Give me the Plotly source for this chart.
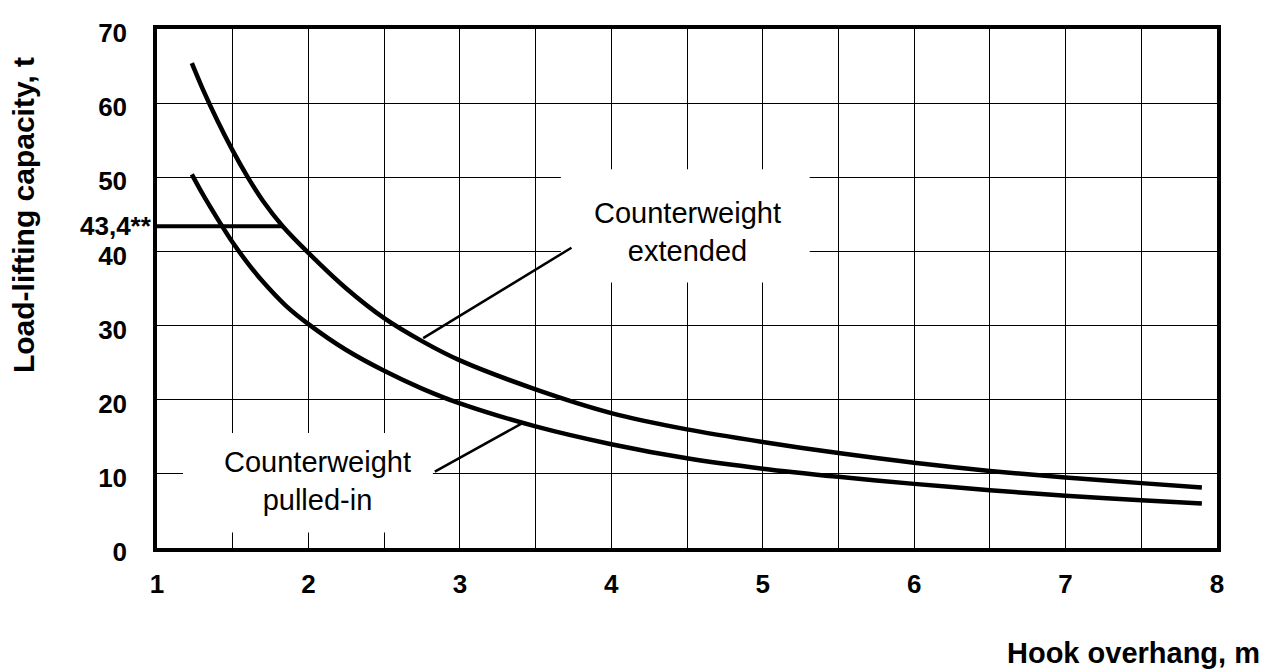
import plotly.graph_objects as go

# Data
ext_x = [1.23, 1.3, 1.4, 1.5, 1.6, 1.7, 1.83, 2.0, 2.25, 2.5, 2.75, 3.0, 3.5, 4.0, 4.5, 5.0, 5.5, 6.0, 6.5, 7.0, 7.5, 7.9]
ext_y = [65.4, 62.0, 57.6, 53.6, 50.0, 46.8, 43.4, 39.8, 35.0, 31.0, 27.9, 25.3, 21.4, 18.2, 16.0, 14.3, 12.8, 11.5, 10.4, 9.5, 8.75, 8.15]

pul_x = [1.23, 1.3, 1.4, 1.5, 1.6, 1.7, 1.85, 2.0, 2.25, 2.5, 2.75, 3.0, 3.5, 4.0, 4.5, 5.0, 5.5, 6.0, 6.5, 7.0, 7.5, 7.9]
pul_y = [50.4, 47.8, 44.4, 41.2, 38.4, 35.9, 32.7, 30.2, 26.7, 23.9, 21.5, 19.5, 16.4, 14.0, 12.1, 10.7, 9.6, 8.65, 7.8, 7.05, 6.45, 6.0]

limit_x = [1.0, 1.83]
limit_y = [43.4, 43.4]
limit_label = "43,4**"

ext_label = "Counterweight<br>extended"
ext_label_pos = (4.505, 42.6)
ext_leader_x = [2.758, 3.737]
ext_leader_y = [28.3, 40.5]
ext_box = (3.667, 5.31, 35.8, 51.1)

pul_label = "Counterweight<br>pulled-in"
pul_label_pos = (2.06, 9.0)
pul_leader_x = [2.835, 3.41]
pul_leader_y = [10.3, 16.8]
pul_box = (1.172, 2.822, 2.1, 15.5)

x_ticks = [1, 2, 3, 4, 5, 6, 7, 8]
y_ticks = [0, 10, 20, 30, 40, 50, 60, 70]

x_title = "Hook overhang, m"
y_title = "Load-lifting capacity, t"

NARROW = "Liberation Sans Narrow, Arial Narrow, Liberation Sans, Arial, sans-serif"
SANS = "Liberation Sans, Arial, Helvetica, sans-serif"

fig = go.Figure()

line_style = dict(color="black", width=4.5, shape="spline", smoothing=0.8)
fig.add_trace(go.Scatter(x=ext_x, y=ext_y, mode="lines", line=line_style, hoverinfo="skip"))
fig.add_trace(go.Scatter(x=pul_x, y=pul_y, mode="lines", line=line_style, hoverinfo="skip"))
fig.add_trace(go.Scatter(x=limit_x, y=limit_y, mode="lines", line=dict(color="black", width=4), hoverinfo="skip"))
fig.add_trace(go.Scatter(x=ext_leader_x, y=ext_leader_y, mode="lines", line=dict(color="black", width=2.5), hoverinfo="skip"))
fig.add_trace(go.Scatter(x=pul_leader_x, y=pul_leader_y, mode="lines", line=dict(color="black", width=2.5), hoverinfo="skip"))

# white boxes behind labels (cover gridlines, below traces)
for (x0, x1, y0, y1) in (ext_box, pul_box):
    fig.add_shape(type="rect", x0=x0, x1=x1, y0=y0, y1=y1, xref="x", yref="y",
                  fillcolor="white", line=dict(width=0), layer="between")

fig.add_annotation(x=ext_label_pos[0], y=ext_label_pos[1], text=ext_label, showarrow=False,
                   font=dict(family=SANS, size=29, color="black"), xanchor="center", yanchor="middle")
fig.add_annotation(x=pul_label_pos[0], y=pul_label_pos[1], text=pul_label, showarrow=False,
                   font=dict(family=SANS, size=29, color="black"), xanchor="center", yanchor="middle")

fig.add_annotation(x=0, xref="paper", y=limit_y[0], yref="y", text=limit_label, showarrow=False,
                   xanchor="right", yanchor="middle", xshift=-3,
                   font=dict(family=NARROW, size=26, color="black", weight="bold"))

fig.add_annotation(x=1.0425, xref="paper", y=-0.202, yref="paper", text=x_title, showarrow=False,
                   xanchor="right", yanchor="middle",
                   font=dict(family=SANS, size=29, color="black", weight="bold"))
fig.add_annotation(x=-0.1264, xref="paper", y=0.6415, yref="paper", text=y_title, showarrow=False,
                   textangle=-90, xanchor="center", yanchor="middle",
                   font=dict(family=SANS, size=30, color="black", weight="bold"))

fig.update_layout(
    width=1272, height=662,
    margin=dict(l=149, r=63, t=10, b=122),
    paper_bgcolor="white", plot_bgcolor="white",
    showlegend=False,
    xaxis=dict(range=[1, 8], tickvals=x_ticks, ticktext=[str(v) for v in x_ticks],
               showgrid=True, gridcolor="black", gridwidth=1.3,
               minor=dict(dtick=0.5, tick0=1, showgrid=True, gridcolor="black", gridwidth=1.3),
               showline=True, linecolor="black", linewidth=3.5, mirror=True,
               zeroline=False, ticks="", ticklabelstandoff=10,
               tickfont=dict(family=NARROW, size=26, color="black", weight="bold")),
    yaxis=dict(range=[0, 70], tickvals=y_ticks, ticktext=[str(v) for v in y_ticks],
               showgrid=True, gridcolor="black", gridwidth=1.3,
               showline=True, linecolor="black", linewidth=3.5, mirror=True,
               zeroline=False, ticks="", ticklabelstandoff=21, ticklabelshift=4,
               tickfont=dict(family=NARROW, size=26, color="black", weight="bold")),
)

fig.write_html("out.html")
